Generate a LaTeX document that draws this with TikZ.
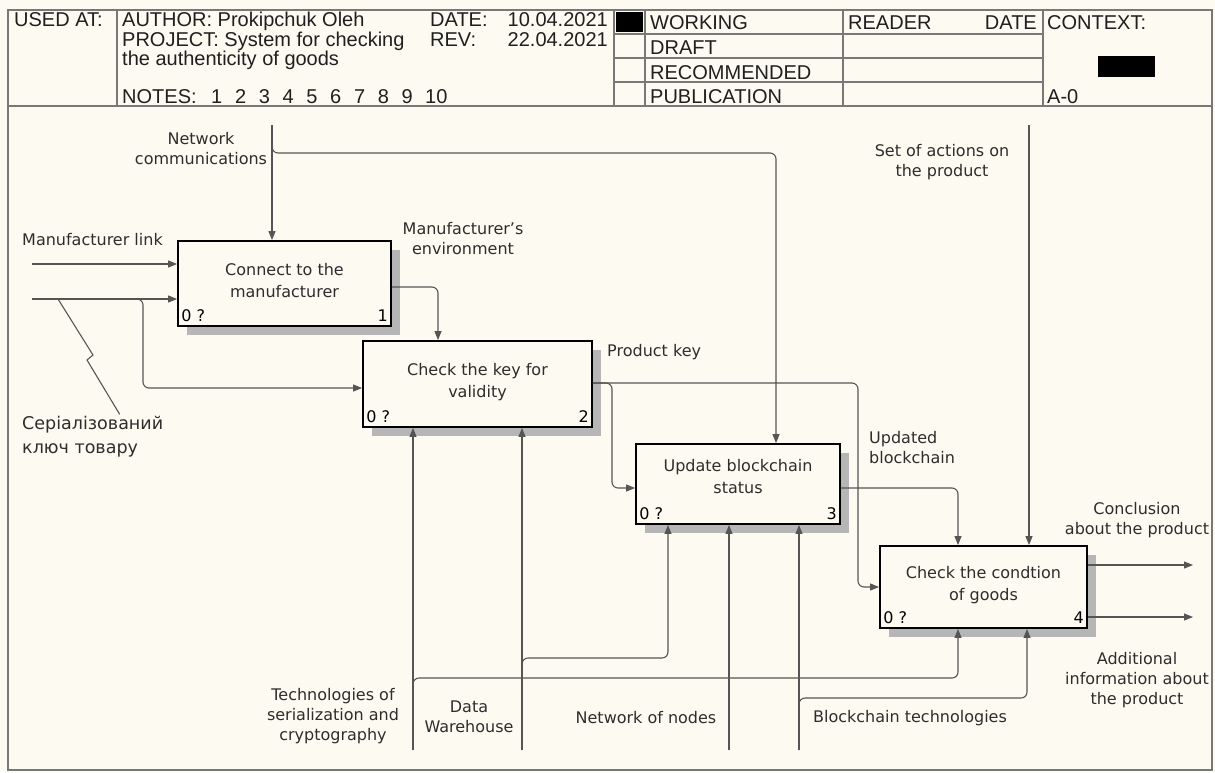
\documentclass[tikz,border=0pt]{standalone}
\usepackage{fontspec}
\setmainfont{DejaVu Sans}
\newfontfamily\hdrfont{Liberation Sans}
\usetikzlibrary{arrows.meta,calc,shadows}
\definecolor{paper}{RGB}{252,250,241}
\definecolor{frameline}{RGB}{120,120,120}
\definecolor{wire}{RGB}{85,85,85}
\definecolor{shade}{RGB}{182,182,182}
\definecolor{ink}{RGB}{45,45,45}
\begin{document}
\begin{tikzpicture}[x=1pt,y=-1pt,
  box/.style={draw=black, line width=1.8pt, fill=paper, inner sep=0pt,
    drop shadow={shadow xshift=9pt, shadow yshift=-9pt, fill=shade, opacity=1}},
  wirestyle/.style={draw=wire, line width=1.1pt, rounded corners=6pt},
  arrowed/.style={wirestyle, -{Triangle[length=9pt,width=7pt]}},
  lbl/.style={font=\fontsize{16}{20}\selectfont, text=ink, inner sep=0pt, align=center},
  boxtext/.style={font=\fontsize{16}{22}\selectfont, text=ink, inner sep=0pt, align=center},
  corner/.style={font=\fontsize{16}{20}\selectfont, text=black, inner sep=0pt},
  hdr/.style={font=\hdrfont\fontsize{20}{22}\selectfont, text=black!88, inner sep=0pt, anchor=base west},
  hdrr/.style={hdr, anchor=base east},
  hline/.style={draw=frameline, line width=1.2pt},
]
% page
\fill[paper] (0,0) rectangle (1215,772);
\useasboundingbox (0,0) rectangle (1215,772);

% ---------- title block ----------
\draw[hline] (8,10) rectangle (1212,770);
\draw[hline] (8,106) -- (1212,106);
\foreach \xx in {117,614,645,843,1043} \draw[hline] (\xx,10) -- (\xx,106);
\foreach \yy in {34,58,82} \draw[hline] (614,\yy) -- (1043,\yy);
\fill[black] (616,12) rectangle (643,32);
\fill[black] (1098,56) rectangle (1155,77);

\node[hdr] (usedat) at (14,26) {USED AT:};
\node[hdr] (author) at (122,26) {AUTHOR: Prokipchuk Oleh};
\node[hdr] (datek) at (430,26) {DATE:};
\node[hdrr] (datev) at (608,26) {10.04.2021};
\node[hdr] (project) at (122,46) {PROJECT: System for checking};
\node[hdr] (revk) at (430,46) {REV:};
\node[hdrr] (revv) at (608,46) {22.04.2021};
\node[hdr] (project2) at (122,65) {the authenticity of goods};
\node[hdr] (notes) at (122,103) {NOTES:};
\foreach \n [count=\k from 0] in {1,2,3,4,5,6,7,8,9}
  \node[hdr] (note\n) at (211+23.8*\k,103) {\n};
\node[hdr] (note10) at (425,103) {10};

\node[hdr] (working) at (650,29) {WORKING};
\node[hdr] (draft) at (650,54) {DRAFT};
\node[hdr] (recommended) at (650,79) {RECOMMENDED};
\node[hdr] (publication) at (650,103) {PUBLICATION};
\node[hdr] (reader) at (848,29) {READER};
\node[hdrr] (rdate) at (1037,29) {DATE};
\node[hdr] (context) at (1047,29) {CONTEXT:};
\node[hdr] (nodeno) at (1047,103) {A-0};

% ---------- activity boxes ----------
\node[box, minimum width=213pt, minimum height=85pt] (b1) at (284.5,283.5) {};
\node[box, minimum width=229pt, minimum height=86pt] (b2) at (477.5,384) {};
\node[box, minimum width=204pt, minimum height=80pt] (b3) at (738,484) {};
\node[box, minimum width=207pt, minimum height=82pt] (b4) at (983.5,587) {};

\node[boxtext] (t1) at ([yshift=3pt]b1.center) {Connect to the\\manufacturer};
\node[boxtext] (t2) at ([yshift=2pt]b2.center) {Check the key for\\validity};
\node[boxtext] (t3) at ([yshift=7pt]b3.center) {Update blockchain\\status};
\node[boxtext] (t4) at ([yshift=2pt]b4.center) {Check the condtion\\of goods};

\foreach \b/\num in {b1/1,b2/2,b3/3,b4/4}{
  \node[corner, anchor=base west] (\b cost) at ([xshift=4pt,yshift=5pt]\b.south west) {0 ?};
  \node[corner, anchor=base east] (\b num) at ([xshift=-4pt,yshift=5pt]\b.south east) {\num};
}

% ---------- inputs ----------
\coordinate (mlS) at (32,264);
\coordinate (skS) at (32,299);
\coordinate (skT) at (143,388);
\draw[arrowed] (mlS) -- (mlS -| b1.west);
\draw[arrowed] (skS) -- (skS -| b1.west);
\draw[arrowed] (skS) -| (skT) -- (skT -| b2.west);

% ---------- controls ----------
\coordinate (ncS) at (272,125);
\coordinate (ncT) at (776,153);
\draw[arrowed] (ncS) -- (ncS |- b1.north);
\draw[arrowed] (ncS) |- (ncT) -- (ncT |- b3.north);

\coordinate (saS) at (1029,125);
\draw[arrowed] (saS) -- (saS |- b4.north);

% ---------- box to box ----------
\coordinate (meT) at (438,287);
\draw[arrowed] (b1.east |- meT) -- (meT) -- (meT |- b2.north);

\coordinate (pkT) at (858,383);
\coordinate (pkB) at (612,488);
\draw[arrowed] (b2.east |- pkT) -- (pkT) -- (pkT |- b4.west) -- (b4.west);
\draw[arrowed] (b2.east |- pkT) -- (pkB |- pkT) -- (pkB) -- (pkB -| b3.west);

\coordinate (ubT) at (958,488);
\draw[arrowed] (b3.east |- ubT) -- (ubT) -- (ubT |- b4.north);

% ---------- outputs ----------
\coordinate (o1) at (1193,565);
\coordinate (o2) at (1193,617);
\draw[arrowed] (o1 -| b4.east) -- (o1);
\draw[arrowed] (o2 -| b4.east) -- (o2);

% ---------- mechanisms ----------
\coordinate (tsS) at (413,750);
\coordinate (tsT) at (958,678);
\draw[arrowed] (tsS) -- (tsS |- b2.south);
\draw[arrowed] (tsS) |- (tsT) -- (tsT |- b4.south);

\coordinate (dwS) at (522,750);
\coordinate (dwT) at (668,658);
\draw[arrowed] (dwS) -- (dwS |- b2.south);
\draw[arrowed] (dwS) |- (dwT) -- (dwT |- b3.south);

\coordinate (nnS) at (729,750);
\draw[arrowed] (nnS) -- (nnS |- b3.south);

\coordinate (btS) at (799,750);
\coordinate (btT) at (1027,698);
\draw[arrowed] (btS) -- (btS |- b3.south);
\draw[arrowed] (btS) |- (btT) -- (btT |- b4.south);

% ---------- arrow labels ----------
\node[lbl] (ncL) at (201,149) {Network\\communications};
\node[lbl, anchor=west] (mlL) at (22,240) {Manufacturer link};
\node[lbl, align=left, anchor=west, font=\fontsize{17.5}{24}\selectfont] (skL) at (22,437) {Серіалізований\\ключ товару};
\coordinate (sqS) at (58,299);
\draw[wirestyle, rounded corners=0pt] (sqS) -- (93,355) -- (87,360) -- ([xshift=27pt,yshift=2pt]skL.north);
\node[lbl] (meL) at (463,239) {Manufacturer’s\\environment};
\node[lbl, anchor=west] (pkL) at (607,352) {Product key};
\node[lbl, align=left, anchor=west] (ubL) at (869,448) {Updated\\blockchain};
\node[lbl] (saL) at (942,162) {Set of actions on\\the product};
\node[lbl] (coL) at (1137,520) {Conclusion\\about the product};
\node[lbl] (aiL) at (1137,680) {Additional\\information about\\the product};
\node[lbl] (tsL) at (333,716) {Technologies of\\serialization and\\cryptography};
\node[lbl] (dwL) at (469,717) {Data\\Warehouse};
\node[lbl] (nnL) at (646,718) {Network of nodes};
\node[lbl] (btL) at (910,718) {Blockchain technologies};
\end{tikzpicture}
\end{document}
